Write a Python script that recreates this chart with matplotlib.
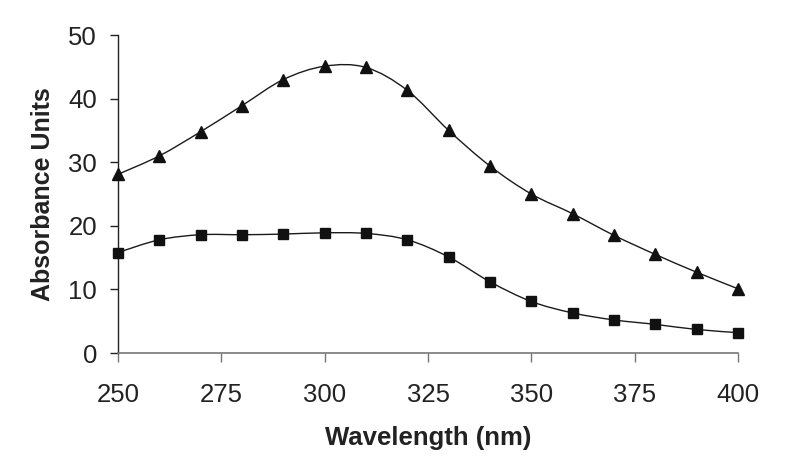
import numpy as np
from matplotlib import pyplot as plt
from matplotlib.path import Path
from matplotlib.patches import PathPatch

wavelength = [250, 260, 270, 280, 290, 300, 310, 320, 330, 340, 350, 360, 370, 380, 390, 400]
series_triangle = [28.1, 31.0, 34.8, 38.9, 43.0, 45.1, 44.9, 41.3, 35.0, 29.4, 25.0, 21.9, 18.5, 15.5, 12.7, 10.1]
series_square = [15.8, 17.8, 18.6, 18.6, 18.7, 18.9, 18.8, 17.8, 15.1, 11.2, 8.1, 6.3, 5.2, 4.5, 3.7, 3.2]
xticks = [250, 275, 300, 325, 350, 375, 400]
yticks = [0, 10, 20, 30, 40, 50]

plt.rcParams['font.family'] = ['Liberation Sans', 'DejaVu Sans']
ink = '#222222'


def smooth_path(xs, ys):
    # Excel-style smoothed line: cubic bezier, Catmull-Rom control points
    pts = np.column_stack([xs, ys]).astype(float)
    n = len(pts)
    verts = [pts[0]]
    codes = [Path.MOVETO]
    for i in range(n - 1):
        p0 = pts[i - 1] if i > 0 else pts[i]
        p1 = pts[i]
        p2 = pts[i + 1]
        p3 = pts[i + 2] if i + 2 < n else pts[i + 1]
        verts += [p1 + (p2 - p0) / 6, p2 - (p3 - p1) / 6, p2]
        codes += [Path.CURVE4] * 3
    return Path(verts, codes)


fig = plt.figure(figsize=(8, 4.76), dpi=100)
ax = fig.add_axes([0.1475, 0.2584, 0.775, 0.668])

for ys, mk, ms in [(series_triangle, '^', 9), (series_square, 's', 7)]:
    ax.add_patch(PathPatch(smooth_path(wavelength, ys), fill=False,
                           edgecolor='#1a1a1a', lw=1.0, zorder=2))
    ax.plot(wavelength, ys, ls='none', marker=mk, ms=ms,
            color='#111111', clip_on=False, zorder=3)

ax.set_xlim(250, 400)
ax.set_ylim(0, 50)
ax.set_xticks(xticks)
ax.set_yticks(yticks)

for s in ['top', 'right']:
    ax.spines[s].set_visible(False)
ax.spines['left'].set_color('#222222')
ax.spines['bottom'].set_color('#777777')
ax.spines['left'].set_linewidth(1.0)
ax.spines['bottom'].set_linewidth(1.2)

ax.tick_params(axis='y', direction='out', length=6, width=1.0,
               color='#222222', pad=9, labelsize=18.5, labelcolor=ink)
ax.tick_params(axis='x', direction='out', length=6.5, width=1.0,
               color='#777777', pad=15, labelsize=18.5, labelcolor=ink)

ax.set_xlabel('Wavelength (nm)', fontsize=18.5, fontweight='bold',
              color=ink, labelpad=14)
ax.set_ylabel('Absorbance Units', fontsize=18, fontweight='bold',
              color=ink, labelpad=10)

fig.savefig('out.png', dpi=100)
plt.close(fig)
